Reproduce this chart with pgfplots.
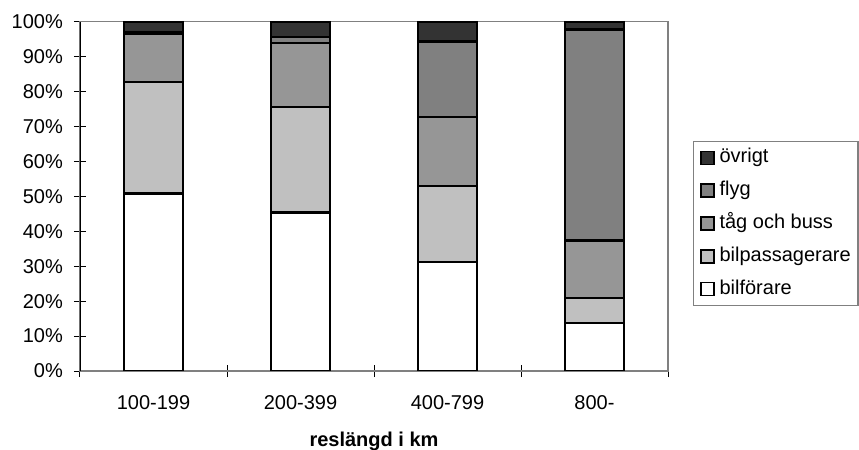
\documentclass[border=0pt]{standalone}
\usepackage{pgfplots}
\pgfplotsset{compat=1.18}
\usepackage{fontspec}
\setmainfont{Liberation Sans}
\definecolor{covr}{HTML}{333333}
\definecolor{cfly}{HTML}{808080}
\definecolor{ctag}{HTML}{969696}
\definecolor{cpas}{HTML}{C0C0C0}
\definecolor{cfor}{HTML}{FFFFFF}
\definecolor{cax}{HTML}{808080}
\begin{document}
\begin{tikzpicture}
\useasboundingbox (0,0) rectangle (859bp,450bp);
\begin{axis}[
  at={(80bp,79bp)}, anchor=south west,
  scale only axis, width=588bp, height=349.3bp,
  ybar stacked, bar width=59bp,
  xmin=-0.5, xmax=3.5, ymin=0, ymax=100,
  xtick={0,1,2,3}, xticklabels={100-199,200-399,400-799,800-},
  major x tick style={draw=none},
  minor xtick={-0.5,0.5,1.5,2.5,3.5},
  ytick={0,10,...,100},
  yticklabels={0\%,10\%,20\%,30\%,40\%,50\%,60\%,70\%,80\%,90\%,100\%},
  tick align=center, major tick length=12bp, minor tick length=12bp,
  xtick pos=bottom, ytick pos=left,
  tick style={black, line width=1bp},
  axis line style={draw=cax, line width=1.5bp},
  /pgf/number format/assume math mode=true,
  tick label style={font=\fontsize{20bp}{24bp}\selectfont},
  yticklabel style={anchor=east, inner sep=0pt, xshift=-11bp},
  xticklabel style={anchor=base, inner sep=0pt, yshift=-32bp},
  xlabel={\bfseries reslängd i km},
  xlabel style={at={(axis description cs:0.5,0)}, anchor=base, inner sep=0pt, yshift=-75bp, font=\fontsize{20bp}{24bp}\selectfont},
  every axis plot/.append style={draw=black, line width=2.3bp},
  reverse legend,
  legend image code/.code={\draw[#1, line width=1.6bp] (0bp,-6.5bp) rectangle (13bp,6.5bp);},
  legend cell align=left,
  legend style={at={(1.042,0.6593)}, anchor=north west, draw=cax, line width=1.5bp,
    font=\fontsize{20bp}{24bp}\selectfont,
    inner xsep=7bp, inner ysep=7.5bp, row sep=14.8bp,
    nodes={inner sep=0pt, text height=14bp, text depth=4bp},
    /tikz/every odd column/.append style={column sep=4.5bp}},
]
\addplot[fill=cfor] coordinates {(0,50.8) (1,45.4) (2,31.2) (3,13.8)};
\addlegendentry{bilförare}
\addplot[fill=cpas] coordinates {(0,32.0) (1,30.2) (2,21.7) (3,7.1)};
\addlegendentry{bilpassagerare}
\addplot[fill=ctag] coordinates {(0,13.8) (1,18.4) (2,19.9) (3,16.5)};
\addlegendentry{tåg och buss}
\addplot[fill=cfly] coordinates {(0,0.4) (1,1.7) (2,21.5) (3,60.4)};
\addlegendentry{flyg}
\addplot[fill=covr] coordinates {(0,3.0) (1,4.3) (2,5.7) (3,2.2)};
\addlegendentry{övrigt}
\draw[black, line width=1.3bp] (rel axis cs:0,0) -- (rel axis cs:0,1);
\end{axis}
\end{tikzpicture}
\end{document}
